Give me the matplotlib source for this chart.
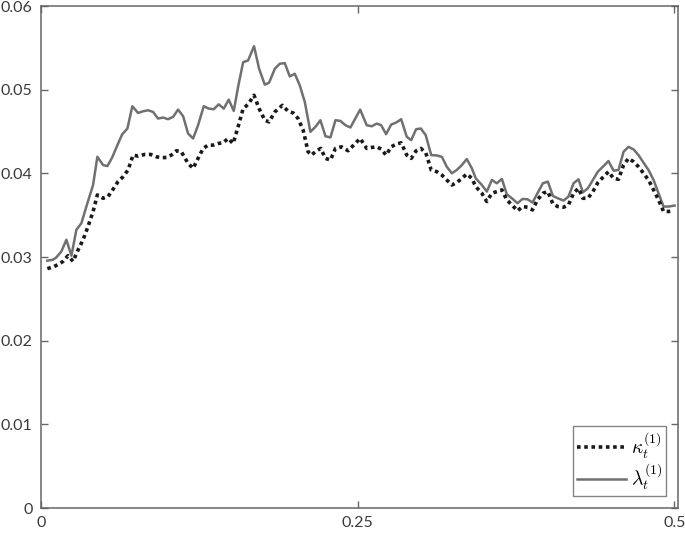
import matplotlib
matplotlib.use("Agg")
import matplotlib.pyplot as plt

# kappa_t^(1)  (dotted black)
t_kappa = [0.0050, 0.0095, 0.0134, 0.0174, 0.0213, 0.0253, 0.0287, 0.0332, 0.0371, 0.0411,
           0.0445, 0.0490, 0.0529, 0.0569, 0.0608, 0.0648, 0.0687, 0.0727, 0.0766, 0.0819,
           0.0866, 0.0911, 0.0950, 0.0990, 0.1029, 0.1069, 0.1108, 0.1161, 0.1201, 0.1240,
           0.1280, 0.1319, 0.1359, 0.1398, 0.1438, 0.1477, 0.1517, 0.1556, 0.1596, 0.1635,
           0.1682, 0.1722, 0.1767, 0.1801, 0.1846, 0.1906, 0.1951, 0.1991, 0.2030, 0.2070,
           0.2109, 0.2135, 0.2175, 0.2209, 0.2246, 0.2285, 0.2325, 0.2372, 0.2425, 0.2520,
           0.2572, 0.2612, 0.2651, 0.2686, 0.2725, 0.2765, 0.2804, 0.2844, 0.2888, 0.2923,
           0.2962, 0.2999, 0.3038, 0.3081, 0.3125, 0.3165, 0.3204, 0.3244, 0.3283, 0.3323,
           0.3362, 0.3402, 0.3433, 0.3481, 0.3520, 0.3560, 0.3599, 0.3639, 0.3678, 0.3718,
           0.3763, 0.3802, 0.3842, 0.3881, 0.3920, 0.3963, 0.4002, 0.4042, 0.4081, 0.4126,
           0.4165, 0.4205, 0.4244, 0.4279, 0.4318, 0.4358, 0.4397, 0.4442, 0.4481, 0.4521,
           0.4560, 0.4600, 0.4639, 0.4679, 0.4718, 0.4758, 0.4797, 0.4837, 0.4876, 0.4916,
           0.4955, 0.4993]
kappa = [0.02861, 0.02881, 0.02909, 0.02948, 0.03016, 0.02948, 0.03067, 0.03206, 0.03365, 0.03544,
         0.03742, 0.03702, 0.03722, 0.03810, 0.03901, 0.03960, 0.04040, 0.04218, 0.04206, 0.04226,
         0.04226, 0.04198, 0.04187, 0.04190, 0.04218, 0.04270, 0.04258, 0.04119, 0.04060, 0.04179,
         0.04298, 0.04337, 0.04337, 0.04357, 0.04365, 0.04417, 0.04357, 0.04556, 0.04774, 0.04825,
         0.04933, 0.04774, 0.04635, 0.04615, 0.04734, 0.04813, 0.04742, 0.04722, 0.04655, 0.04516,
         0.04258, 0.04218, 0.04270, 0.04298, 0.04179, 0.04159, 0.04298, 0.04317, 0.04270, 0.04417,
         0.04298, 0.04310, 0.04317, 0.04290, 0.04218, 0.04317, 0.04349, 0.04365, 0.04218, 0.04179,
         0.04270, 0.04298, 0.04246, 0.04040, 0.04020, 0.03980, 0.03921, 0.03861, 0.03889, 0.03940,
         0.03992, 0.03940, 0.03841, 0.03762, 0.03663, 0.03762, 0.03782, 0.03802, 0.03683, 0.03623,
         0.03552, 0.03603, 0.03595, 0.03563, 0.03683, 0.03762, 0.03782, 0.03635, 0.03603, 0.03595,
         0.03623, 0.03762, 0.03821, 0.03702, 0.03702, 0.03782, 0.03889, 0.03960, 0.04020, 0.03940,
         0.03929, 0.04099, 0.04179, 0.04139, 0.04079, 0.04000, 0.03921, 0.03802, 0.03683, 0.03544,
         0.03544, 0.03552]

# lambda_t^(1)  (solid grey)
t_lambda = [0.0050, 0.0095, 0.0121, 0.0161, 0.0200, 0.0240, 0.0279, 0.0319, 0.0358, 0.0411,
            0.0445, 0.0490, 0.0524, 0.0561, 0.0603, 0.0640, 0.0682, 0.0721, 0.0766, 0.0806,
            0.0845, 0.0885, 0.0924, 0.0964, 0.1003, 0.1043, 0.1082, 0.1122, 0.1161, 0.1201,
            0.1240, 0.1285, 0.1324, 0.1364, 0.1403, 0.1443, 0.1482, 0.1522, 0.1556, 0.1596,
            0.1635, 0.1682, 0.1722, 0.1767, 0.1801, 0.1846, 0.1885, 0.1925, 0.1964, 0.2004,
            0.2043, 0.2083, 0.2127, 0.2167, 0.2206, 0.2246, 0.2285, 0.2325, 0.2364, 0.2404,
            0.2443, 0.2520, 0.2572, 0.2612, 0.2651, 0.2686, 0.2725, 0.2765, 0.2804, 0.2844,
            0.2888, 0.2923, 0.2962, 0.2999, 0.3038, 0.3081, 0.3125, 0.3165, 0.3204, 0.3244,
            0.3283, 0.3323, 0.3362, 0.3402, 0.3433, 0.3481, 0.3520, 0.3560, 0.3599, 0.3639,
            0.3678, 0.3718, 0.3763, 0.3802, 0.3842, 0.3881, 0.3920, 0.3963, 0.4002, 0.4042,
            0.4081, 0.4126, 0.4165, 0.4205, 0.4244, 0.4279, 0.4318, 0.4358, 0.4397, 0.4442,
            0.4481, 0.4521, 0.4560, 0.4600, 0.4639, 0.4679, 0.4718, 0.4758, 0.4797, 0.4837,
            0.4876, 0.4916, 0.4955, 0.5003]
lam = [0.02956, 0.02968, 0.02996, 0.03067, 0.03206, 0.03016, 0.03325, 0.03405, 0.03603, 0.03861,
       0.04198, 0.04099, 0.04087, 0.04187, 0.04337, 0.04464, 0.04536, 0.04802, 0.04722, 0.04742,
       0.04754, 0.04734, 0.04655, 0.04667, 0.04647, 0.04675, 0.04762, 0.04683, 0.04476, 0.04417,
       0.04575, 0.04802, 0.04774, 0.04766, 0.04825, 0.04774, 0.04881, 0.04746, 0.05032, 0.05329,
       0.05349, 0.05520, 0.05250, 0.05060, 0.05083, 0.05250, 0.05310, 0.05317, 0.05159, 0.05190,
       0.05052, 0.04853, 0.04496, 0.04556, 0.04635, 0.04444, 0.04429, 0.04635, 0.04627, 0.04575,
       0.04548, 0.04762, 0.04575, 0.04563, 0.04595, 0.04575, 0.04468, 0.04583, 0.04607, 0.04647,
       0.04437, 0.04397, 0.04528, 0.04536, 0.04456, 0.04218, 0.04214, 0.04198, 0.04079, 0.04000,
       0.04040, 0.04099, 0.04171, 0.04060, 0.03940, 0.03861, 0.03782, 0.03921, 0.03881, 0.03933,
       0.03750, 0.03702, 0.03643, 0.03694, 0.03690, 0.03651, 0.03762, 0.03881, 0.03901, 0.03730,
       0.03702, 0.03675, 0.03722, 0.03881, 0.03929, 0.03774, 0.03821, 0.03921, 0.04020, 0.04087,
       0.04147, 0.04032, 0.04040, 0.04258, 0.04317, 0.04286, 0.04218, 0.04127, 0.04040, 0.03921,
       0.03762, 0.03603, 0.03603, 0.03615]

x_ticks = [0, 0.25, 0.5]
x_ticklabels = ["0", "0.25", "0.5"]
y_ticks = [0, 0.01, 0.02, 0.03, 0.04, 0.05, 0.06]
y_ticklabels = ["0", "0.01", "0.02", "0.03", "0.04", "0.05", "0.06"]

plt.rcParams["font.family"] = ["Lato", "DejaVu Sans"]
plt.rcParams["mathtext.fontset"] = "cm"

fig = plt.figure(figsize=(6.85, 5.33), dpi=100)
ax = fig.add_axes([0.0599, 0.0469, 0.9299, 0.9418])

ax.plot(t_kappa, kappa, color="#1a1a1a", linestyle=(0, (1, 1)), linewidth=2.6,
        label=r"$\kappa_t^{(1)}$", zorder=3)
ax.plot(t_lambda, lam, color="#707070", linewidth=1.8, label=r"$\lambda_t^{(1)}$", zorder=2)

ax.set_xlim(0, 0.503)
ax.set_ylim(0, 0.06)
ax.set_xticks(x_ticks)
ax.set_xticklabels(x_ticklabels)
ax.set_yticks(y_ticks)
ax.set_yticklabels(y_ticklabels)

for s in ax.spines.values():
    s.set_color("#666666")
    s.set_linewidth(1.1)
ax.tick_params(direction="in", length=5, width=1.0, color="#666666",
               labelsize=11.5, labelcolor="#3a3a3a", top=True, right=True, pad=6)

leg = ax.legend(loc="lower right", fontsize=14, frameon=True, fancybox=False,
                edgecolor="#666666", handlelength=2.5, borderpad=0.2,
                labelspacing=0.05, handletextpad=0.25, borderaxespad=0.6)
leg.get_frame().set_linewidth(1.0)

fig.savefig("out.png", dpi=100)
